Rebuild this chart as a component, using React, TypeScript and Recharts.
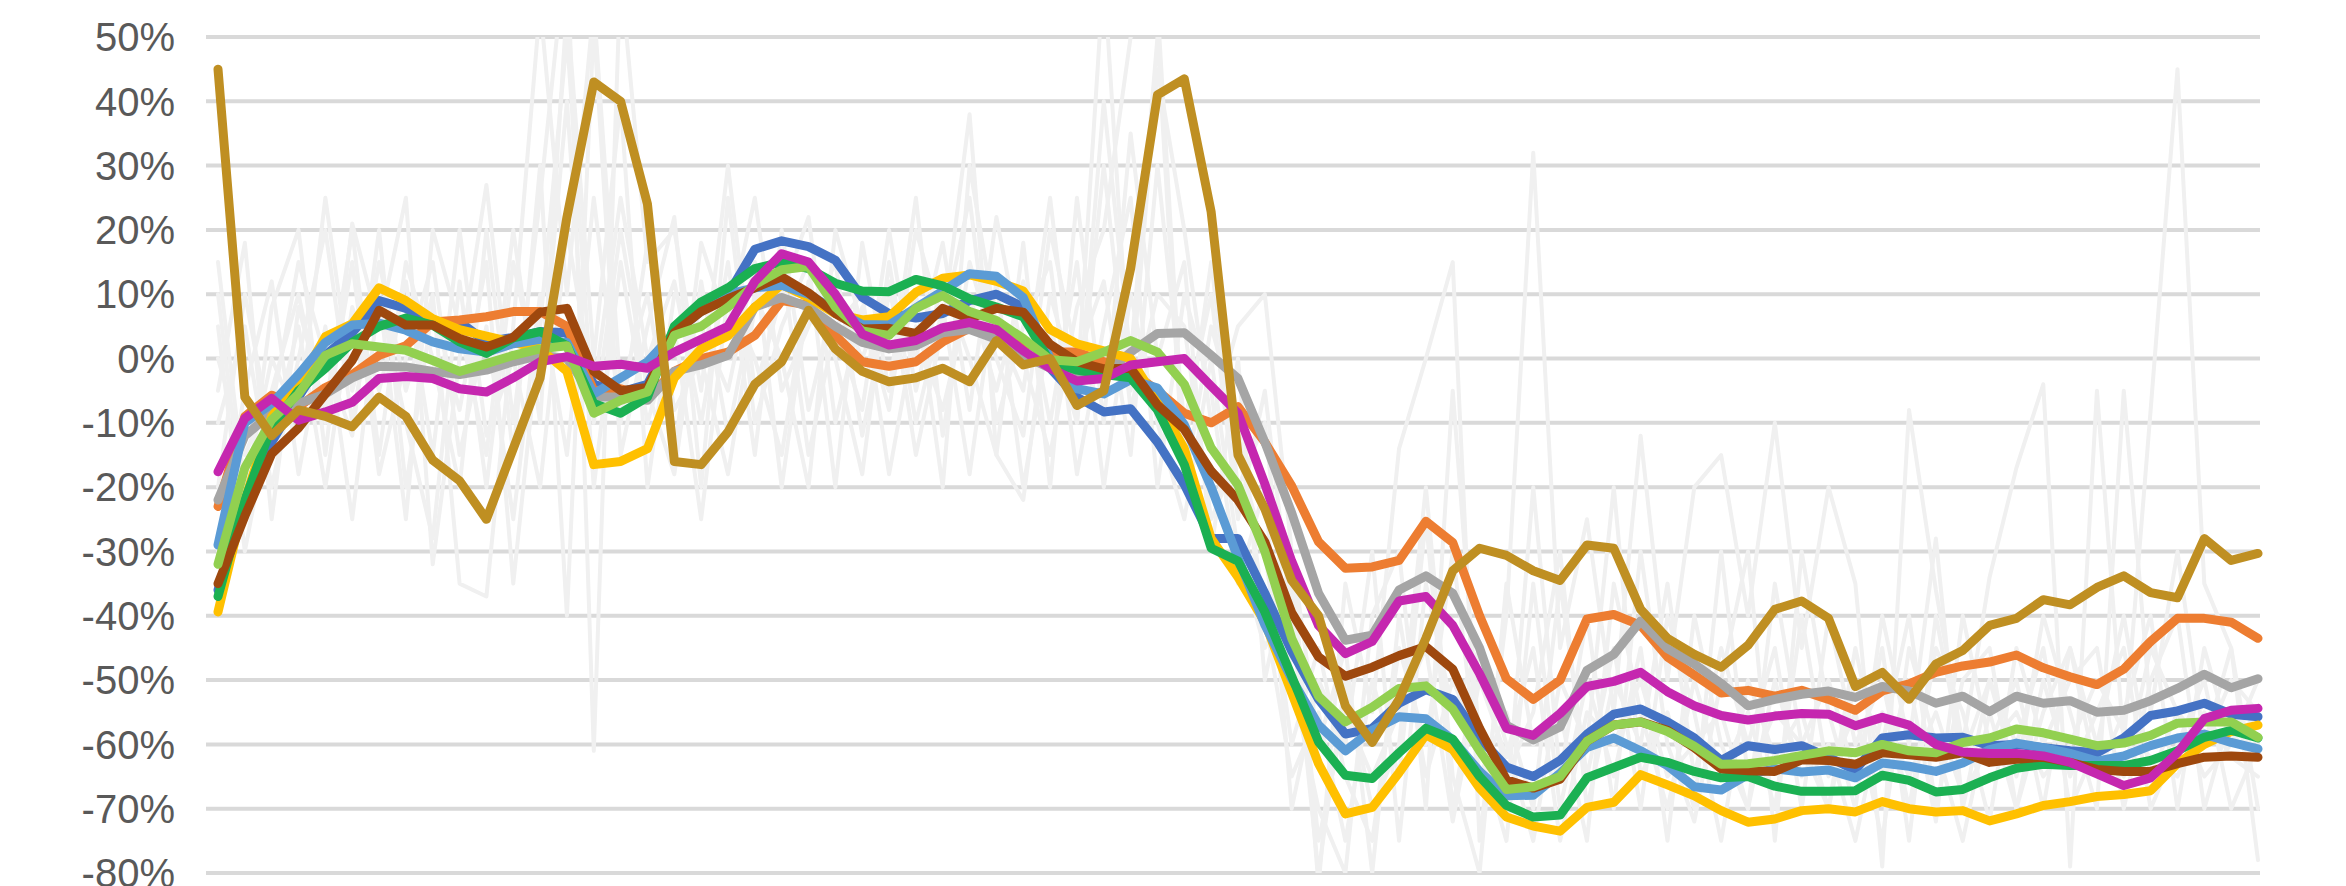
import React from 'react';
import { LineChart, Line, XAxis, YAxis, CartesianGrid } from 'recharts';

const DARK_BLUE = [
  -36, -22, -13, -6, 0.5, 4, 9, 7.8, 5.7, 5.7,
  2.6, 3.3, 4.2, 4, -4, -5.2, -4, 4, 7.5, 10,
  17, 18.3, 17.4, 15.3, 9.5, 7, 6.3, 7, 9, 10,
  8, -1.5, -6, -8.3, -7.8, -13, -19.6, -28, -28, -36.5,
  -45.5, -53, -58.4, -57.5, -53.6, -51.5, -53, -59, -63.5, -65,
  -62.5, -58.4, -55.3, -54.5, -56.5, -59, -62.5, -60.2, -60.8, -60.2,
  -62, -64, -59, -58.5, -59, -58.9, -60.2, -60, -60.5, -61,
  -61.3, -59, -55.5, -54.8, -53.6, -55.3, -55.7,
];
const ORANGE = [
  -23, -9, -5.7, -7.5, -4.5, -2.5, 0.5, 2, 5.7, 6,
  6.5, 7.3, 7.3, 5, -5, -4.7, -6, -2, 0, 1,
  3.6, 9, 8.3, 3.6, -0.5, -1.2, -0.5, 2.6, 4.7, 3.8,
  2.5, 1, 1, -0.5, -2, -5, -8.5, -10, -7.5, -13,
  -19.8, -28.5, -32.6, -32.4, -31.4, -25.3, -28.6, -40, -49.8, -53,
  -50, -40.5, -39.8, -41.5, -46.4, -49.2, -52, -51.6, -52.5, -51.6,
  -53, -54.7, -51.7, -50.6, -48.8, -47.8, -47.2, -46.1, -48.1, -49.5,
  -50.7, -48.3, -44, -40.4, -40.4, -41, -43.5,
];
const GRAY = [
  -22, -12, -8.5, -7, -5.5, -3, -1.2, -1.3, -2, -2.5,
  -1.8, -0.5, 0.5, 0, -6, -6, -6.5, -2, -1, 0.5,
  8, 9.5, 8, 5, 2.5, 1.5, 2, 4, 4.5, 3,
  0.5, -1.5, -3, -2.5, 1, 3.9, 4, 0.5, -3.1, -13,
  -24, -36.5, -43.8, -43, -36, -33.8, -36.5, -45, -57, -59.3,
  -57.3, -48.5, -46, -40.8, -45.1, -47.5, -50.5, -54, -53, -52.2,
  -51.7, -52.7, -51, -51.7, -53.6, -52.5, -54.9, -52.5, -53.6, -53.2,
  -55, -54.7, -53.2, -51.3, -49.1, -51.2, -49.8,
];
const YELLOW = [
  -39.4, -22, -9, -4, 3.4, 5.4, 11, 9, 6.2, 4.5,
  3.5, 2.5, 1.5, -2, -16.5, -16, -14, -3, 1.5, 3.5,
  8, 11.5, 9.5, 7, 6, 6.5, 10.3, 12.5, 13, 12,
  10.5, 4.5, 2.3, 1.2, 0, -6.7, -14, -28, -34, -41,
  -52, -63, -70.8, -69.8, -64.4, -58.5, -60.8, -66.8, -71.3, -72.7,
  -73.5, -69.8, -69, -64.7, -66.3, -68, -70.3, -72.1, -71.6, -70.3,
  -70, -70.5, -68.9, -70, -70.5, -70.3, -71.9, -70.8, -69.5, -68.9,
  -68.1, -67.8, -67.2, -63, -60, -58, -57,
];
const LIGHT_BLUE = [
  -29, -10, -7, -2.5, 2.5, 5.2, 5.5, 4.4, 2.6, 1.5,
  1, 2.3, 3, 2.5, -5.5, -3, -0.5, 4, 7.3, 10,
  11, 11.4, 10, 7.5, 5.3, 5.2, 7.9, 10.5, 13.2, 12.8,
  9.5, 0, -4.7, -5.5, -3.3, -4.6, -10.3, -20, -31, -41.4,
  -49.8, -57, -61, -57.8, -55.7, -56, -59.3, -64.2, -68, -67.9,
  -64.5, -60.5, -59, -61, -63.3, -66.6, -67.1, -64.7, -63.8, -64.3,
  -64, -65.2, -62.9, -63.4, -64.2, -62.9, -60.8, -59.8, -60.5, -61.4,
  -62.6, -61.8, -60.2, -59, -58.4, -59.7, -60.7,
];
const GREEN = [
  -37, -22, -10.6, -5, -1.5, 2.5, 5, 6.3, 5.2, 2.6,
  0.8, 3.2, 4.2, 2, -7, -8.5, -6, 5, 8.8, 11,
  14, 15, 14, 11.7, 10.5, 10.4, 12.3, 11.3, 9.3, 8,
  6.5, -0.5, -1.8, -2.5, -3, -8, -16.5, -29.5, -31.5, -39.4,
  -49.4, -59.6, -64.8, -65.3, -61.3, -57.5, -59.2, -65, -69.5, -71.3,
  -71, -65.2, -63.6, -62, -62.8, -64.2, -65.2, -65, -66.5, -67.3,
  -67.3, -67.2, -64.8, -65.6, -67.4, -67, -65.2, -63.7, -63.1, -63.3,
  -63.3, -63.3, -62.5, -61, -58.9, -57.8, -59,
];
const BROWN = [
  -35, -24.5, -14.8, -10.8, -5.5, -0.3, 7.5, 5.2, 5.2, 3.1,
  1.8, 3.3, 7.2, 7.8, -2, -5, -4.5, 4, 7.3, 9.3,
  11, 12.7, 10.2, 7, 4.6, 4.7, 3.9, 7.8, 6.2, 7.8,
  7.2, 2.2, -0.5, -1.6, -1.5, -7.2, -11, -17.5, -22, -28.5,
  -39.5, -46.4, -49.4, -48, -46.2, -44.8, -48.3, -57.5, -65.5, -66.8,
  -65.4, -59.5, -57, -56.5, -57.8, -60.5, -63.8, -64.1, -64.2, -62.4,
  -62.5, -63.1, -61.3, -61.6, -62, -61.3, -62.8, -62.3, -62, -62.8,
  -63.9, -64.2, -64.2, -63, -62, -61.8, -62,
];
const LIGHT_GREEN = [
  -32, -17, -9.5, -5.5, 0.5, 2.3, 1.8, 1.3, -0.3, -2,
  -0.8, 0.5, 1.5, 2, -8.5, -6.5, -5.2, 3.6, 5, 8,
  11.5, 13.8, 14.3, 8, 4.3, 3.6, 7.8, 9.8, 7.3, 5.9,
  3.1, -0.2, -0.5, 1, 2.8, 1, -4, -13.9, -19.7, -30,
  -43.5, -52.5, -56.5, -54.2, -51.3, -50.9, -54.5, -61, -67, -66.6,
  -65, -59.5, -57, -56.5, -58, -60.3, -63.1, -63, -62.5, -61.7,
  -61, -61.3, -60, -61, -61.3, -59.7, -59, -57.6, -58.2, -59.2,
  -60.2, -59.8, -58.6, -56.7, -56.5, -56.5, -58.9,
];
const MAGENTA = [
  -17.6, -9.3, -6.2, -9.6, -8.3, -6.8, -3.1, -2.8, -3.1, -4.7,
  -5.2, -3, -0.5, 0.3, -1.2, -0.9, -1.5, 1, 3, 5,
  12, 16.3, 15, 10, 3.8, 2.1, 2.8, 4.8, 5.6, 4.5,
  1.2, -1.5, -3.5, -3.1, -1, -0.5, 0, -4.3, -8.5, -19.5,
  -31.5, -41.5, -45.9, -44, -37.7, -37, -41.5, -49, -57.5, -58.6,
  -55.2, -51, -50.2, -48.8, -51.8, -54, -55.5, -56.2, -55.6, -55.2,
  -55.3, -57.1, -55.8, -57, -60, -61.2, -61.4, -61.4, -61.8, -62.8,
  -64.6, -66.4, -65.2, -61.3, -56, -54.7, -54.4,
];
const GOLD = [
  45, -6, -12, -8, -9, -10.6, -6, -9, -15.8, -19,
  -25, -14, -3, 22, 43, 40, 24, -16, -16.5, -11.4,
  -4, -0.5, 7.5, 1.5, -2, -3.6, -3, -1.5, -3.6, 2.8,
  -1, 0, -7.3, -5, 14, 41, 43.5, 22.8, -15, -23.4,
  -34.5, -40, -54, -59.7, -53, -43.5, -33, -29.5, -30.6, -33,
  -34.5, -29, -29.5, -39, -43.5, -46, -48, -44.6, -39, -37.7,
  -40.4, -51, -48.8, -53, -47.5, -45.4, -41.5, -40.4, -37.5, -38.3,
  -35.6, -33.8, -36.4, -37.2, -28, -31.4, -30.3,
];

const BG1 = [
  10, -25, 8, 20, -15, 21, 5, 25, -32, 0,
  27, -10, 25, 65, -61, 60, 15, 20, -5, 30,
  -5, 10, 22, -10, 8, -8, 20, 5, 38, -15,
  -22, 10, -5, 60, -5, 45, 20, -10, 5, 10,
  -30, -82, -35, -55, -14, 0, 15, -75, -40, 32,
  -45, -25, -55, -12, -50, -20, -15, -40, -10, -45,
  -20, -35, -79, -8, -36, -60, -34, -17, -4, -79,
  -5, -60, -8, 45, -35, -45, -78,
];
const BG2 = [
  -10, 5, -20, 0, 20, -10, 15, -5, 10, -35,
  -37, 5, 55, 10, 55, -5, 10, -15, 18, 5,
  25, -5, 5, 15, -12, 10, 0, 18, -8, 22,
  0, -15, 8, 20, 50, 55, -15, 15, -20, -10,
  -50, -70, -80, -40, -30, -70, -5, -60, -70, -20,
  -65, -40, -70, -30, -60, -72, -50, -30, -75, -30,
  -55, -70, -40, -60, -28, -70, -50, -65, -40, -55,
  -70, -5, -55, -30, -60, -50, -55,
];
const BG3 = [
  -30, -5, 12, -18, 5, -25, 10, -10, -28, 12,
  -20, 15, -5, 40, -20, 15, -10, 5, -25, 10,
  0, -15, 12, 0, -18, 15, -10, 8, -18, 12,
  -20, 5, -10, 30, -8, 10, 5, -25, -15, -30,
  -60, -45, -65, -75, -45, -60, -30, -65, -55, -70,
  -35, -65, -45, -70, -40, -55, -75, -50, -62, -55,
  -70, -45, -65, -50, -72, -40, -60, -50, -70, -45,
  -60, -65, -45, -55, -65, -60, -50,
];
const BG4 = [
  0, -15, -5, 10, -10, 15, -18, 0, 15, -15,
  5, -25, 10, -15, 25, -10, 18, -8, 0, -18,
  8, 15, -15, 5, 10, -18, 5, -8, 10, -5,
  12, -10, 15, -20, 10, -10, -25, 0, -30, -45,
  -35, -75, -55, -65, -55, -45, -72, -50, -62, -45,
  -75, -55, -60, -50, -65, -60, -55, -70, -50, -65,
  -60, -75, -55, -65, -55, -68, -60, -55, -65, -60,
  -50, -58, -62, -65, -55, -62, -65,
];
const BG5 = [
  -20, 10, -12, 5, -20, 8, -5, 12, -15, 20,
  -12, 0, -20, 20, -5, 25, 0, 12, -10, 15,
  -15, 20, -8, 10, 0, 12, -15, 5, 25, -10,
  5, 15, -18, 5, 25, -20, 10, -5, -35, -20,
  -70, -50, -60, -30, -75, -35, -55, -45, -65, -55,
  -30, -70, -50, -60, -35, -65, -45, -60, -45, -70,
  -40, -60, -50, -70, -45, -55, -72, -45, -60, -50,
  -45, -70, -50, -40, -70, -55, -62,
];
const BG6 = [
  5, -30, -8, 15, 0, -12, 20, -20, 8, -8,
  15, -35, 5, 50, -10, 20, -5, -18, 12, -12,
  10, 0, -20, 20, 5, -5, 25, -12, 15, 0,
  -12, 20, 0, 12, -15, 30, -10, 10, -25, -5,
  -40, -80, -50, -70, -60, -20, -65, -80, -35, -60,
  -55, -75, -35, -55, -70, -50, -65, -55, -70, -40,
  -65, -55, -75, -45, -60, -75, -55, -70, -50, -65,
  -55, -45, -70, -60, -50, -70, -60,
];
const BG7 = [
  -5, 18, -25, 8, -8, 20, -15, 15, 0, -20,
  20, -15, 30, -40, 52, -15, 5, 22, -20, 25,
  -10, 5, 15, -20, 18, -5, 10, -20, 30, 5,
  -5, 25, -10, 40, 0, 50, -20, 5, -10, -40,
  -65, -55, -75, -50, -65, -25, -70, -45, -60, -75,
  -50, -60, -20, -65, -55, -70, -30, -65, -55, -60,
  -50, -65, -45, -75, -40, -62, -50, -60, -45, -70,
  -60, -40, -65, -55, -60, -45, -70,
];
const BG8 = [
  15, -20, 0, -10, 25, -5, 10, -25, 20, 5,
  -15, 20, -10, 55, 0, 40, -20, 10, 5, -5,
  15, -20, 10, 5, -8, 20, -5, 12, 0, -15,
  18, -20, 25, -10, 35, 0, 15, -30, 0, -50,
  -30, -60, -45, -80, -40, -65, -50, -60, -75, -35,
  -70, -50, -65, -45, -75, -40, -60, -70, -35, -60,
  -70, -50, -60, -40, -70, -50, -45, -70, -55, -45,
  -65, -55, -40, -70, -45, -60, -55,
];

const Y_TICKS = [-80, -70, -60, -50, -40, -30, -20, -10, 0, 10, 20, 30, 40, 50];

const BG_COLOR = '#F0F0F0';
const BG_W = 4;
const MAIN_W = 9;

const SERIES = [
  { key: 'bg1', values: BG1, color: BG_COLOR, width: BG_W },
  { key: 'bg2', values: BG2, color: BG_COLOR, width: BG_W },
  { key: 'bg3', values: BG3, color: BG_COLOR, width: BG_W },
  { key: 'bg4', values: BG4, color: BG_COLOR, width: BG_W },
  { key: 'bg5', values: BG5, color: BG_COLOR, width: BG_W },
  { key: 'bg6', values: BG6, color: BG_COLOR, width: BG_W },
  { key: 'bg7', values: BG7, color: BG_COLOR, width: BG_W },
  { key: 'bg8', values: BG8, color: BG_COLOR, width: BG_W },
  { key: 'darkBlue', values: DARK_BLUE, color: '#4472C4', width: MAIN_W },
  { key: 'orange', values: ORANGE, color: '#ED7D31', width: MAIN_W },
  { key: 'gray', values: GRAY, color: '#A5A5A5', width: MAIN_W },
  { key: 'yellow', values: YELLOW, color: '#FFC000', width: MAIN_W },
  { key: 'lightBlue', values: LIGHT_BLUE, color: '#5B9BD5', width: MAIN_W },
  { key: 'green', values: GREEN, color: '#1BB052', width: MAIN_W },
  { key: 'brown', values: BROWN, color: '#9E480E', width: MAIN_W },
  { key: 'lightGreen', values: LIGHT_GREEN, color: '#92D050', width: MAIN_W },
  { key: 'magenta', values: MAGENTA, color: '#C527AF', width: MAIN_W },
  { key: 'gold', values: GOLD, color: '#BF8F22', width: MAIN_W },
];

const data = GOLD.map((_, i) => {
  const row: Record<string, number> = { x: i };
  SERIES.forEach((s) => {
    row[s.key] = s.values[i];
  });
  return row;
});

export default function App() {
  return (
    <div style={{ position: 'absolute', left: 0, top: 0, background: '#fff' }}>
      <LineChart
        width={2346}
        height={886}
        data={data}
        margin={{ top: 37, right: 86, bottom: 13, left: 0 }}
      >
        <CartesianGrid vertical={false} stroke="#D9D9D9" strokeWidth={4} />
        <XAxis
          dataKey="x"
          type="number"
          domain={[0, GOLD.length - 1]}
          padding={{ left: 12, right: 2 }}
          hide
        />
        <YAxis
          type="number"
          domain={[-80, 50]}
          ticks={Y_TICKS}
          interval={0}
          allowDataOverflow
          width={206}
          axisLine={false}
          tickLine={false}
          tickSize={6}
          tickMargin={25}
          tickFormatter={(v: number) => `${v}%`}
          tick={{ fontSize: 40, fontFamily: 'Liberation Sans, Arial, sans-serif', fill: '#595959' }}
        />
        {SERIES.map((s) => (
          <Line
            key={s.key}
            dataKey={s.key}
            type="linear"
            stroke={s.color}
            strokeWidth={s.width}
            strokeLinejoin="round"
            strokeLinecap="round"
            dot={false}
            activeDot={false}
            isAnimationActive={false}
          />
        ))}
      </LineChart>
    </div>
  );
}
